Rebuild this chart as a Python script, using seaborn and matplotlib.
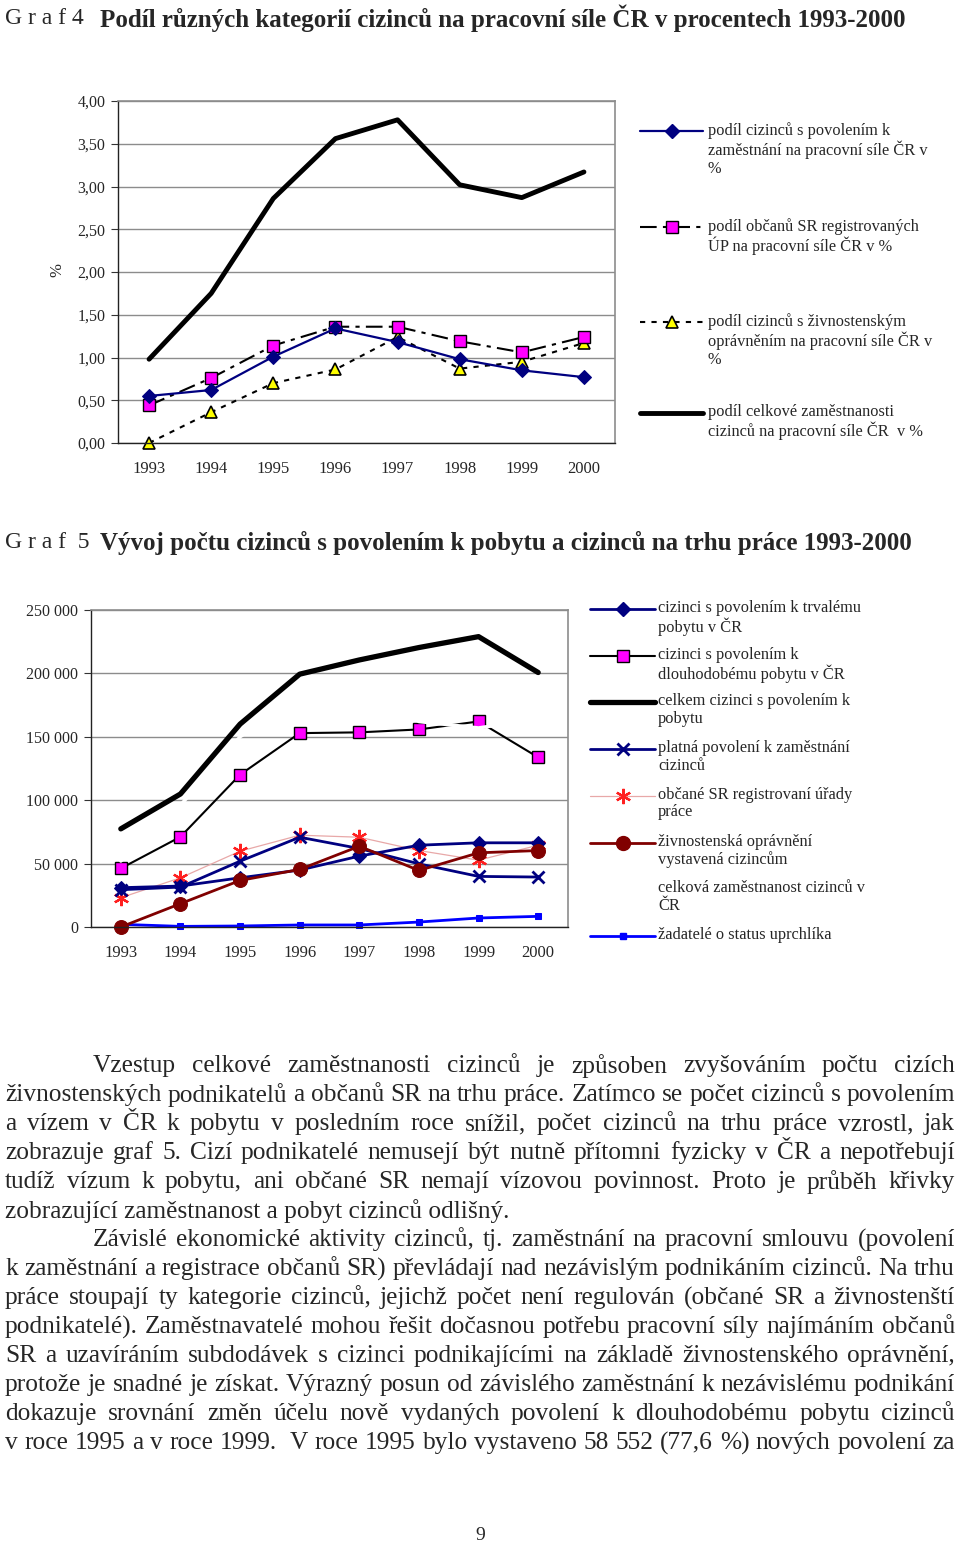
import matplotlib
matplotlib.use("Agg")
import matplotlib.pyplot as plt
from matplotlib.lines import Line2D
from matplotlib.ticker import FixedLocator
import seaborn as sns

# Graf 4 - data (%)
years = ["1993", "1994", "1995", "1996", "1997", "1998", "1999", "2000"]
pct_zamestnani = [0.55, 0.62, 1.01, 1.34, 1.18, 0.98, 0.85, 0.77]
pct_obcane_sr = [0.44, 0.76, 1.14, 1.36, 1.36, 1.19, 1.06, 1.24]
pct_zivnost = [0.0, 0.36, 0.70, 0.86, 1.24, 0.87, 0.95, 1.17]
pct_celkem = [0.98, 1.75, 2.86, 3.56, 3.78, 3.02, 2.87, 3.17]
y4_ticks = [0.0, 0.5, 1.0, 1.5, 2.0, 2.5, 3.0, 3.5, 4.0]
y4_labels = ["0,00", "0,50", "1,00", "1,50", "2,00", "2,50", "3,00", "3,50", "4,00"]

# Graf 5 - data (osoby)
trvaly = [31000, 32300, 38800, 44900, 55900, 64500, 66400, 66400]
dlouhodoby = [46200, 71100, 120100, 152900, 153500, 155800, 162100, 133800]
celkem_pobyt = [77400, 104900, 160000, 199400, 210600, 220400, 229000, 200700]
platna_povoleni = [29400, 31500, 51900, 70800, 61900, 49800, 39900, 39400]
obcane_sr = [23100, 38800, 59800, 72400, 70800, 60300, 52700, 64500]
zivnostenska = [0, 18400, 36700, 45400, 63700, 44600, 58500, 60300]
celkova_zam = [52000, 96000, 150000, 182000, 195000, 162000, 157000, 164000]
uprchlici = [2100, 500, 800, 1600, 1600, 3900, 7100, 8400]
y5_ticks = [0, 50000, 100000, 150000, 200000, 250000]
y5_labels = ["0", "50 000", "100 000", "150 000", "200 000", "250 000"]

legend4 = [
    "podíl cizinců s povolením k\nzaměstnání na pracovní síle ČR v\n%",
    "podíl občanů SR registrovaných\nÚP na pracovní síle ČR v %",
    "podíl cizinců s živnostenským\noprávněním na pracovní síle ČR v\n%",
    "podíl celkové zaměstnanosti\ncizinců na pracovní síle ČR  v %",
]
legend5 = [
    "cizinci s povolením k trvalému\npobytu v ČR",
    "cizinci s povolením k\ndlouhodobému pobytu v ČR",
    "celkem cizinci s povolením k\npobytu",
    "platná povolení k zaměstnání\ncizinců",
    "občané SR registrovaní úřady\npráce",
    "živnostenská oprávnění\nvystavená cizincům",
    "celková zaměstnanost cizinců v\nČR",
    "žadatelé o status uprchlíka",
]

body = [
    "Vzestup celkové zaměstnanosti cizinců je způsoben zvyšováním počtu cizích",
    "živnostenských podnikatelů a občanů SR na trhu práce. Zatímco se počet cizinců s povolením",
    "a vízem v ČR k pobytu v posledním roce snížil, počet cizinců na trhu práce vzrostl, jak",
    "zobrazuje graf 5. Cizí podnikatelé nemusejí být nutně přítomni fyzicky v ČR a nepotřebují",
    "tudíž vízum k pobytu, ani občané SR nemají vízovou povinnost. Proto je průběh křivky",
    "zobrazující zaměstnanost a pobyt cizinců odlišný.",
    "Závislé ekonomické aktivity cizinců, tj. zaměstnání na pracovní smlouvu (povolení",
    "k zaměstnání a registrace občanů SR) převládají nad nezávislým podnikáním cizinců. Na trhu",
    "práce stoupají ty kategorie cizinců, jejichž počet není regulován (občané SR a živnostenští",
    "podnikatelé). Zaměstnavatelé mohou řešit dočasnou potřebu pracovní síly najímáním občanů",
    "SR a uzavíráním subdodávek s cizinci podnikajícími na základě živnostenského oprávnění,",
    "protože je snadné je získat. Výrazný posun od závislého zaměstnání k nezávislému podnikání",
    "dokazuje srovnání změn účelu nově vydaných povolení k dlouhodobému pobytu cizinců",
    "v roce 1995 a v roce 1999.  V roce 1995 bylo vystaveno 58 552 (77,6 %) nových povolení za",
]
indented = [0, 6]
not_justified = [5]

sns.set_style("white")
plt.rcParams["font.family"] = ["Liberation Serif", "DejaVu Serif"]

W, H = 960, 1545
fig = plt.figure(figsize=(W / 100, H / 100), dpi=100)
renderer = fig.canvas.get_renderer()


def fx(x):
    return x / W


def fy(y):
    return 1 - y / H


def style_axes(ax, ticks, labels, ylim):
    ax.set_xlim(-0.5, len(years) - 0.5)
    ax.set_ylim(*ylim)
    ax.set_yticks(ticks)
    ax.set_yticklabels(labels, fontsize=11.5)
    ax.set_xticks(range(len(years)))
    ax.set_xticklabels(years, fontsize=12)
    ax.xaxis.set_minor_locator(FixedLocator([i - 0.5 for i in range(len(years) + 1)]))
    ax.tick_params(axis="x", which="major", length=0, pad=13)
    ax.tick_params(axis="x", which="minor", length=5, width=0.8, direction="out", color="#555555")
    ax.tick_params(axis="y", length=5, width=0.8, direction="out", color="#333333", pad=4, left=True)
    ax.grid(axis="y", color="#8c8c8c", linewidth=1.0)
    ax.set_axisbelow(True)
    for s in ["top", "right"]:
        ax.spines[s].set_color("#8c8c8c")
        ax.spines[s].set_linewidth(1.2)
    for s in ["left", "bottom"]:
        ax.spines[s].set_color("#222222")
        ax.spines[s].set_linewidth(1.0)
    ax.set_xlabel("")
    ax.set_ylabel("")


def legend_entry(y, x0, x1, tx, text, **kws):
    mid = (x0 + x1) / 2
    line = Line2D([fx(x0), fx(mid), fx(x1)], [fy(y)] * 3, transform=fig.transFigure,
                  markevery=[1], **kws)
    fig.add_artist(line)
    fig.text(fx(tx), fy(y - 9), text, fontsize=11.8, va="top", ha="left", linespacing=1.13)


x = list(range(len(years)))

# ---------------- Graf 4 ----------------
fig.text(fx(5), fy(18), "G r a f 4", fontsize=17, va="center", ha="left")
fig.text(fx(100), fy(18), "Podíl různých kategorií cizinců na pracovní síle ČR v procentech 1993-2000",
         fontsize=18, fontweight="bold", va="center", ha="left")

ax1 = fig.add_axes([fx(118), fy(443), (615 - 118) / W, (443 - 101) / H])
s1 = dict(color="#000080", linewidth=1.6, marker="D", markersize=7, markerfacecolor="#000080",
          markeredgecolor="#000080")
s2 = dict(color="black", linewidth=1.5, linestyle=(0, (8, 3, 2, 3)), marker="s", markersize=9,
          markerfacecolor="#ff00ff", markeredgecolor="black", markeredgewidth=1.0)
s3 = dict(color="black", linewidth=1.5, linestyle=(0, (2.5, 3)), marker="^", markersize=9,
          markerfacecolor="#ffff00", markeredgecolor="black", markeredgewidth=1.2)
s4 = dict(color="black", linewidth=3.5)
sns.lineplot(x=x, y=pct_celkem, ax=ax1, clip_on=False, **s4)
sns.lineplot(x=x, y=pct_zivnost, ax=ax1, clip_on=False, **s3)
sns.lineplot(x=x, y=pct_obcane_sr, ax=ax1, clip_on=False, **s2)
sns.lineplot(x=x, y=pct_zamestnani, ax=ax1, clip_on=False, **s1)
style_axes(ax1, y4_ticks, y4_labels, (0, 4))
fig.text(fx(57), fy(270), "%", fontsize=12, rotation=90, va="center", ha="center")

for yy, txt, kws in zip([131, 227, 322, 413], legend4, [s1, s2, s3, s4]):
    legend_entry(yy, 640, 703, 708, txt, **kws)

# ---------------- Graf 5 ----------------
fig.text(fx(5), fy(543), "G r a f  5", fontsize=17, va="center", ha="left")
fig.text(fx(100), fy(543), "Vývoj počtu cizinců s povolením k pobytu a cizinců na trhu práce 1993-2000",
         fontsize=18, fontweight="bold", va="center", ha="left")

ax2 = fig.add_axes([fx(91), fy(927), (568 - 91) / W, (927 - 610) / H])
t1 = dict(color="#000080", linewidth=2, marker="D", markersize=7, markerfacecolor="#000080",
          markeredgecolor="#000080")
t2 = dict(color="black", linewidth=1.5, marker="s", markersize=9, markerfacecolor="#ff00ff",
          markeredgecolor="black", markeredgewidth=1.0)
t3 = dict(color="black", linewidth=3.8)
t4 = dict(color="#000080", linewidth=2, marker="x", markersize=9, markeredgewidth=2,
          markeredgecolor="#000080")
t5 = dict(color="#e8a8a8", linewidth=0.9, marker=(6, 2, 0), markersize=11, markeredgewidth=1.6,
          markeredgecolor="#ff2020", markerfacecolor="#ff2020")
t6 = dict(color="#800000", linewidth=2, marker="o", markersize=10, markerfacecolor="#800000",
          markeredgecolor="#800000")
t7 = dict(color="white", linewidth=2.5)
t8 = dict(color="#0000ff", linewidth=2, marker="s", markersize=4, markerfacecolor="#0000ff",
          markeredgecolor="#0000ff")
sns.lineplot(x=x, y=uprchlici, ax=ax2, clip_on=False, **t8)
sns.lineplot(x=x, y=obcane_sr, ax=ax2, clip_on=False, **t5)
sns.lineplot(x=x, y=dlouhodoby, ax=ax2, clip_on=False, **t2)
sns.lineplot(x=x, y=celkova_zam, ax=ax2, clip_on=False, **t7)
sns.lineplot(x=x, y=celkem_pobyt, ax=ax2, clip_on=False, **t3)
sns.lineplot(x=x, y=trvaly, ax=ax2, clip_on=False, **t1)
sns.lineplot(x=x, y=platna_povoleni, ax=ax2, clip_on=False, **t4)
sns.lineplot(x=x, y=zivnostenska, ax=ax2, clip_on=False, **t6)
style_axes(ax2, y5_ticks, y5_labels, (0, 250000))

styles5 = [t1, t2, t3, t4, t5, t6, t7, t8]
for i, (txt, kws) in enumerate(zip(legend5, styles5)):
    legend_entry(609 + i * 46.7, 590, 655, 658, txt, **kws)

# ---------------- text ----------------
left, right = 5, 955
# size chosen so the line with plain word spacing (2nd) fills the column
probe = fig.text(0, 0, body[1], fontsize=16.5)
body_size = 16.5 * (right - left) / probe.get_window_extent(renderer).width
probe.remove()
body_font = dict(fontsize=body_size, va="center", ha="left")

for i, line in enumerate(body):
    yy = 1066 + i * 29.0
    x0 = 93 if i in indented else left
    if i in not_justified:
        fig.text(fx(x0), fy(yy), line, **body_font)
        continue
    words = line.split(" ")
    objs = [fig.text(0, fy(yy), w, **body_font) for w in words]
    widths = [o.get_window_extent(renderer).width if w else 0 for o, w in zip(objs, words)]
    gap = max((right - x0 - sum(widths)) / (len(words) - 1), 2)
    xx = x0
    for o, w in zip(objs, widths):
        o.set_x(fx(xx))
        xx += w + gap

fig.text(fx(480), fy(1535), "9", fontsize=14, va="center", ha="center")

fig.savefig("out.png", dpi=100)
